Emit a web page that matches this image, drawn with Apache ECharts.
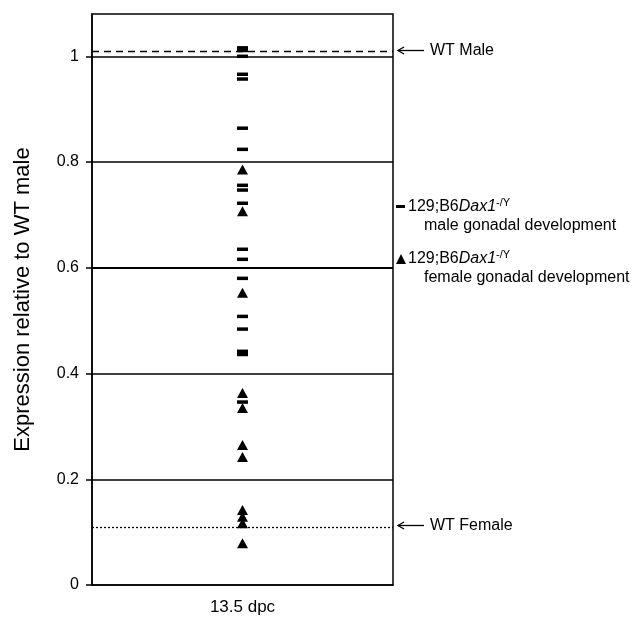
<!DOCTYPE html>
<html>
<head>
<meta charset="utf-8">
<script src="https://cdn.jsdelivr.net/npm/echarts@6/dist/echarts.min.js"></script>
<style>
  html, body { margin: 0; padding: 0; background: #fff; }
  #chart { width: 640px; height: 618px; }
</style>
</head>
<body>
<div id="chart"></div>
<script>
const categories = ['13.5 dpc']
// 129;B6 Dax1-/Y, male gonadal development (dashes)
const maleValues = [1.016, 1.011, 1.0, 0.966, 0.957, 0.864, 0.824, 0.756, 0.747, 0.722,
  0.635, 0.616, 0.58, 0.508, 0.484, 0.442, 0.436, 0.346]
// 129;B6 Dax1-/Y, female gonadal development (triangles)
const femaleValues = [0.786, 0.707, 0.553, 0.363, 0.335, 0.265, 0.242, 0.142, 0.129, 0.117, 0.079]
const yTicks = [0, 0.2, 0.4, 0.6, 0.8, 1]
const wtMale = 1.012
const wtFemale = 0.113

const FONT = 'Liberation Sans, Arial, sans-serif'

const chart = echarts.init(document.getElementById('chart'))

chart.setOption({
  animation: false,
  grid: {
    left: 92,
    right: 247,
    top: 14,
    bottom: 33,
    show: true,
    borderColor: '#000',
    borderWidth: 1.5,
  },
  xAxis: {
    type: 'category',
    data: categories,
    axisTick: { show: false },
    axisLine: { lineStyle: { color: '#000', width: 1.5 } },
    axisLabel: { color: '#000', fontFamily: FONT, fontSize: 17, margin: 14 },
  },
  yAxis: {
    type: 'value',
    min: 0,
    max: 1.08,
    interval: 0.2,
    name: 'Expression relative to WT male',
    nameLocation: 'middle',
    nameGap: 58,
    nameTextStyle: { color: '#000', fontFamily: FONT, fontSize: 22 },
    axisLine: { show: true, lineStyle: { color: '#000', width: 1.5 } },
    axisTick: { show: true, length: 6, customValues: yTicks, lineStyle: { color: '#000', width: 1.5 } },
    axisLabel: {
      color: '#000',
      fontFamily: FONT,
      fontSize: 16,
      margin: 13,
      customValues: yTicks,
      formatter: v => String(+v.toFixed(2)),
    },
    splitLine: { show: false },
  },
  series: [
    {
      name: 'male',
      type: 'scatter',
      symbol: 'rect',
      symbolSize: [11, 3.5],
      itemStyle: { color: '#000', opacity: 1 },
      data: maleValues.map(v => [categories[0], v]),
      z: 5,
      markLine: {
        silent: true,
        symbol: 'none',
        label: { show: false },
        data: yTicks.filter(v => v > 0).map(v => ({
          yAxis: v,
          lineStyle: { color: '#000', width: v === 0.6 ? 2 : 1.6, type: 'solid' },
        })).concat([
          { yAxis: wtMale, lineStyle: { color: '#000', width: 1.3, type: [7, 5] } },
          { yAxis: wtFemale, lineStyle: { color: '#000', width: 1.3, type: [2, 2] } },
        ]),
      },
    },
    {
      name: 'female',
      type: 'scatter',
      symbol: 'triangle',
      symbolSize: [11, 10],
      itemStyle: { color: '#000', opacity: 1 },
      data: femaleValues.map(v => [categories[0], v]),
      z: 5,
    },
  ],
})

// annotations and legend to the right of the plot
function arrowNote(text, value) {
  const y = Math.round(chart.convertToPixel({ yAxisIndex: 0 }, value)) + 0.5
  return {
    type: 'group',
    children: [
      { type: 'line', shape: { x1: 398, y1: y, x2: 424, y2: y }, style: { stroke: '#000', lineWidth: 1.3 } },
      { type: 'polyline', shape: { points: [[404, y - 3.5], [398, y], [404, y + 3.5]] }, style: { stroke: '#000', lineWidth: 1.3, fill: null } },
      { type: 'text', x: 430, y: y, style: { text: text, font: '16px ' + FONT, fill: '#000', verticalAlign: 'middle' } },
    ],
  }
}

const richName = {
  i: { fontStyle: 'italic', fontSize: 16, fontFamily: FONT, fill: '#000' },
  s: { fontSize: 11, fontFamily: FONT, fill: '#000', verticalAlign: 'top', padding: [0, 0, 8, 0] },
}

function legendItem(symbol, y, caption) {
  return {
    type: 'group',
    children: [
      symbol,
      {
        type: 'text', x: 408, y: y,
        style: {
          text: '129;B6{i|Dax1}{s|-/Y}',
          rich: richName,
          font: '16px ' + FONT,
          fill: '#000',
          verticalAlign: 'middle',
        },
      },
      { type: 'text', x: 424, y: y + 19, style: { text: caption, font: '16px ' + FONT, fill: '#000', verticalAlign: 'middle' } },
    ],
  }
}

chart.setOption({
  graphic: [
    arrowNote('WT Male', wtMale),
    arrowNote('WT Female', wtFemale),
    legendItem({ type: 'rect', shape: { x: 396, y: 205, width: 9, height: 3 }, style: { fill: '#000' } }, 207, 'male gonadal development'),
    legendItem({ type: 'polygon', shape: { points: [[396, 264], [401, 254], [406, 264]] }, style: { fill: '#000' } }, 259, 'female gonadal development'),
  ],
})
</script>
</body>
</html>
